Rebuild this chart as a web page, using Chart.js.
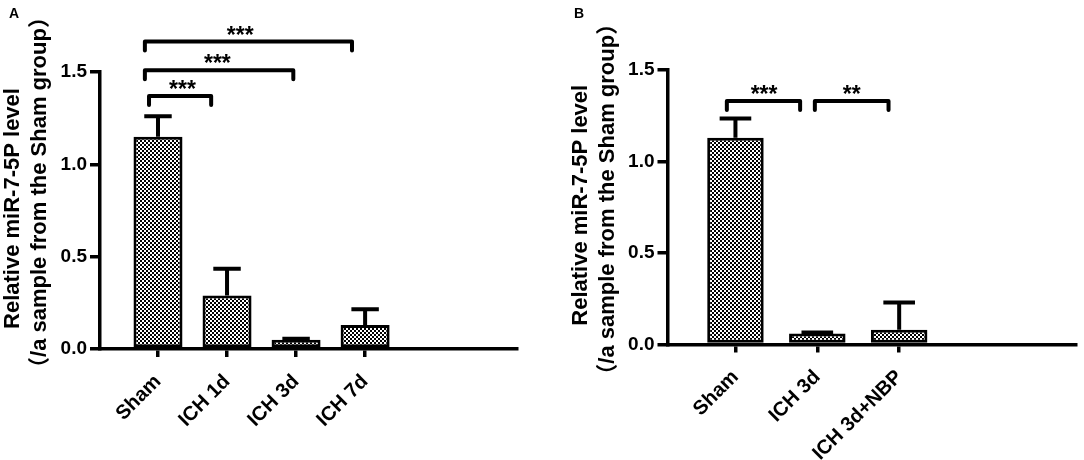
<!DOCTYPE html>
<html>
<head>
<meta charset="utf-8">
<script src="https://cdn.jsdelivr.net/npm/chart.js@4.4.0/dist/chart.umd.min.js"></script>
<style>
  body { margin: 0; background: #fff; width: 1084px; height: 460px; overflow: hidden;
         font-family: "Liberation Sans", Arial, "Noto Sans CJK SC", sans-serif; }
  .panel { position: absolute; top: 0; height: 460px; }
  #wrapA { left: 0; width: 540px; }
  #wrapB { left: 540px; width: 544px; }
  .tag { position: absolute; top: 5px; font-weight: bold; font-size: 14px; }
</style>
</head>
<body>
<div class="panel" id="wrapA"><canvas id="chartA"></canvas></div>
<div class="panel" id="wrapB"><canvas id="chartB"></canvas></div>
<div class="tag" style="left:9px">A</div>
<div class="tag" style="left:574px">B</div>
<script>
// shared axis
var yTicks = [0, 0.5, 1.0, 1.5];
var yTitle = ['Relative miR-7-5P level', '（/a sample from the Sham group）'];

// panel A
var groupsA = ['Sham', 'ICH 1d', 'ICH 3d', 'ICH 7d'];
var meanA = [1.15, 0.29, 0.05, 0.13];
var semA = [0.11, 0.145, 0.006, 0.085];
// significance brackets (x in group index units, level in y units)
var sigFromA = [-0.13, -0.19, -0.19];
var sigToA = [0.77, 1.96, 2.81];
var sigLevelA = [1.37, 1.51, 1.665];
var sigTextA = ['***', '***', '***'];
var sigTextAtA = [0.355, 0.86, 1.19];

// panel B
var groupsB = ['Sham', 'ICH 3d', 'ICH 3d+NBP'];
var meanB = [1.13, 0.06, 0.08];
var semB = [0.105, 0.005, 0.15];
var sigFromB = [-0.105, 0.97];
var sigToB = [0.79, 1.87];
var sigLevelB = [1.33, 1.33];
var sigTextB = ['***', '**'];
var sigTextAtB = [0.35, 1.42];

var FONT = "'Liberation Sans', Arial, 'Noto Sans CJK SC', sans-serif";
Chart.defaults.font.family = FONT;
Chart.defaults.color = '#000';

// upper error bars on top of each bar
var errorBars = {
    id: 'errorBars',
    afterDatasetsDraw: function (chart, args, o) {
        var ctx = chart.ctx, ys = chart.scales.y;
        var bars = chart.getDatasetMeta(0).data;
        ctx.save();
        ctx.strokeStyle = '#000';
        ctx.lineWidth = 4;
        bars.forEach(function (bar, i) {
            var top = ys.getPixelForValue(o.means[i] + o.errs[i]);
            var half = bar.width * 0.28;
            ctx.beginPath();
            ctx.moveTo(bar.x, bar.y);
            ctx.lineTo(bar.x, top);
            ctx.moveTo(bar.x - half, top);
            ctx.lineTo(bar.x + half, top);
            ctx.stroke();
        });
        ctx.restore();
    }
};

// brackets with stars above the plot
var brackets = {
    id: 'brackets',
    afterDraw: function (chart, args, o) {
        var ctx = chart.ctx, xs = chart.scales.x, ys = chart.scales.y;
        ctx.save();
        ctx.strokeStyle = '#000';
        ctx.fillStyle = '#000';
        ctx.lineWidth = 4;
        ctx.lineJoin = 'round';
        ctx.lineCap = 'round';
        ctx.font = 'bold 23px ' + FONT;
        ctx.textAlign = 'center';
        ctx.textBaseline = 'alphabetic';
        o.from.forEach(function (f, k) {
            var x1 = xs.getPixelForValue(f);
            var x2 = xs.getPixelForValue(o.to[k]);
            var yy = ys.getPixelForValue(o.level[k]);
            ctx.beginPath();
            ctx.moveTo(x1, yy + 9);
            ctx.lineTo(x1, yy);
            ctx.lineTo(x2, yy);
            ctx.lineTo(x2, yy + 9);
            ctx.stroke();
            ctx.fillText(o.text[k], xs.getPixelForValue(o.textAt[k]), yy + 1);
        });
        ctx.restore();
    }
};

// two-line y title, each line centred on its own point
var axisTitle = {
    id: 'axisTitle',
    afterDraw: function (chart, args, o) {
        var ctx = chart.ctx, ys = chart.scales.y;
        var mid = (ys.top + ys.bottom) / 2;
        ctx.save();
        ctx.fillStyle = '#000';
        ctx.font = 'bold 22px ' + FONT;
        ctx.textAlign = 'center';
        ctx.textBaseline = 'middle';
        o.lines.forEach(function (t, k) {
            ctx.save();
            ctx.translate(ys.left + 13 + 27 * k, mid + o.shift[k]);
            ctx.rotate(-Math.PI / 2);
            ctx.fillText(t, 0, 0);
            ctx.restore();
        });
        ctx.restore();
    }
};

function checker(ctx) {
    var c = document.createElement('canvas');
    c.width = 4; c.height = 4;
    var g = c.getContext('2d');
    g.fillStyle = '#fff'; g.fillRect(0, 0, 4, 4);
    g.fillStyle = '#000'; g.fillRect(0, 0, 2, 2); g.fillRect(2, 2, 2, 2);
    return ctx.createPattern(c, 'repeat');
}

function makePanel(id, groups, means, errs, sig, box) {
    var ctx = document.getElementById(id).getContext('2d');
    return new Chart(ctx, {
        type: 'bar',
        data: {
            datasets: [{
                data: means.map(function (v, i) { return {x: i, y: v}; }),
                backgroundColor: checker(ctx),
                borderColor: '#000',
                borderWidth: 3,
                borderSkipped: false,
                categoryPercentage: 1,
                barPercentage: box.bar
            }]
        },
        options: {
            responsive: true,
            maintainAspectRatio: false,
            animation: false,
            layout: {padding: {left: box.left, right: box.right, top: box.top, bottom: 0}},
            plugins: {
                legend: {display: false},
                tooltip: {enabled: false},
                errorBars: {means: means, errs: errs},
                brackets: sig,
                axisTitle: {lines: yTitle, shift: box.titleShift}
            },
            scales: {
                x: {
                    type: 'linear',
                    min: box.xmin,
                    max: box.xmax,
                    offset: false,
                    afterBuildTicks: function (s) {
                        s.ticks = groups.map(function (g, i) { return {value: i}; });
                    },
                    afterFit: function (s) { s.height = box.xh; },
                    grid: {offset: false, drawOnChartArea: false, tickLength: 8, lineWidth: 3.5, color: '#000'},
                    border: {width: 3.5, color: '#000'},
                    ticks: {
                        autoSkip: false, minRotation: 45, maxRotation: 45, padding: 13,
                        font: {size: 20, weight: 'bold'},
                        callback: function (v) { return groups[v]; }
                    }
                },
                y: {
                    min: 0,
                    max: 1.5,
                    afterBuildTicks: function (s) {
                        s.ticks = yTicks.map(function (v) { return {value: v}; });
                    },
                    afterFit: function (s) { s.width = 100; },
                    grid: {drawOnChartArea: false, tickLength: 10, lineWidth: 3.5, color: '#000'},
                    border: {width: 3.5, color: '#000'},
                    ticks: {
                        padding: 3,
                        font: {size: 19, weight: 'bold'},
                        callback: function (v) { return v.toFixed(1); }
                    },
                    title: {display: false}
                }
            }
        },
        plugins: [errorBars, brackets, axisTitle]
    });
}

makePanel('chartA', groupsA, meanA, semA,
    {from: sigFromA, to: sigToA, level: sigLevelA, text: sigTextA, textAt: sigTextAtA},
    {left: 0, right: 23, top: 72, xh: 111, xmin: -0.84, xmax: 5.2, bar: 0.71, titleShift: [-2, -18]});

makePanel('chartB', groupsB, meanB, semB,
    {from: sigFromB, to: sigToB, level: sigLevelB, text: sigTextB, textAt: sigTextAtB},
    {left: 27.5, right: 8, top: 70, xh: 115.5, xmin: -0.83, xmax: 4.16, bar: 0.69, titleShift: [-2, -8]});
</script>
</body>
</html>
